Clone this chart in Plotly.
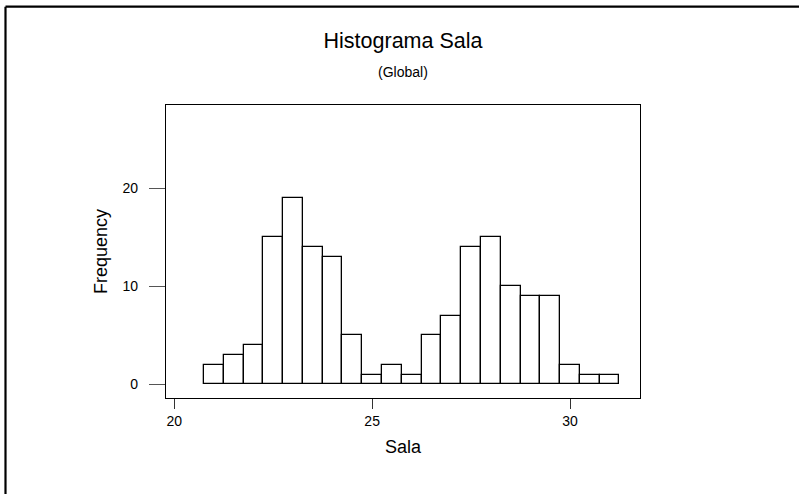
import plotly.graph_objects as go

# Histogram data (bin centers, bin width 0.5)
bin_centers = [21.0, 21.5, 22.0, 22.5, 23.0, 23.5, 24.0, 24.5, 25.0, 25.5, 26.0,
               26.5, 27.0, 27.5, 28.0, 28.5, 29.0, 29.5, 30.0, 30.5, 31.0]
counts = [2, 3, 4, 15, 19, 14, 13, 5, 1, 2, 1, 5, 7, 14, 15, 10, 9, 9, 2, 1, 1]
bin_width = 0.5
x_ticks = [20, 25, 30]
y_ticks = [0, 10, 20]

W, H = 799, 494
L, R, T, B = 166, 640, 105, 398  # plot area in pixels

def px_x(px):
    return (px - L) / (R - L)

def px_y(py):
    return (B - py) / (B - T)

FONT = "Liberation Sans, Arial, sans-serif"

fig = go.Figure(go.Bar(
    x=bin_centers,
    y=counts,
    width=[bin_width] * len(counts),
    marker=dict(color="white", line=dict(color="black", width=1.3)),
    showlegend=False,
))

fig.update_layout(
    width=W, height=H,
    margin=dict(l=L, r=W - R, t=T, b=H - B, pad=0),
    paper_bgcolor="white",
    plot_bgcolor="white",
    font=dict(family=FONT, color="black"),
    title=dict(text="Histograma Sala", x=403 / W, xanchor="center",
               y=1 - 40.5 / H, yanchor="middle", font=dict(size=21.5, family=FONT)),
    bargap=0,
    annotations=[dict(text="(Global)", xref="paper", yref="paper",
                      x=px_x(403), y=px_y(71.5), xanchor="center", yanchor="middle",
                      showarrow=False, font=dict(size=14, family=FONT))],
    shapes=[
        dict(type="line", xref="paper", yref="paper",
             x0=px_x(5.5), x1=px_x(805), y0=px_y(6.7), y1=px_y(6.7),
             line=dict(color="black", width=2.2)),
        dict(type="line", xref="paper", yref="paper",
             x0=px_x(5.5), x1=px_x(5.5), y0=px_y(6.7), y1=px_y(500),
             line=dict(color="black", width=2.2)),
    ],
)

fig.update_xaxes(
    range=[20 - (174.3 - L) / 39.57, 30 + (R - 570) / 39.57],
    tickvals=x_ticks, ticktext=[str(v) for v in x_ticks],
    ticks="outside", ticklen=10, tickwidth=1.2, tickcolor="#333",
    showline=True, linecolor="black", linewidth=1.2, mirror=True,
    showgrid=False, zeroline=False,
    tickfont=dict(size=14, family=FONT),
    title=dict(text="Sala", font=dict(size=18, family=FONT), standoff=12),
)
fig.update_yaxes(
    range=[-(B - 384.3) / 9.8, (384.3 - T) / 9.8],
    tickvals=y_ticks, ticktext=[str(v) for v in y_ticks],
    ticks="outside", ticklen=16, tickwidth=1.2, tickcolor="#555",
    showline=True, linecolor="black", linewidth=1.2, mirror=True,
    showgrid=False, zeroline=False,
    tickfont=dict(size=14, family=FONT),
    ticklabelstandoff=8,
    title=dict(text="Frequency", font=dict(size=18, family=FONT), standoff=10),
)

fig.write_html("out.html", config={"displayModeBar": False},
               post_script="document.body.style.margin='0';")
